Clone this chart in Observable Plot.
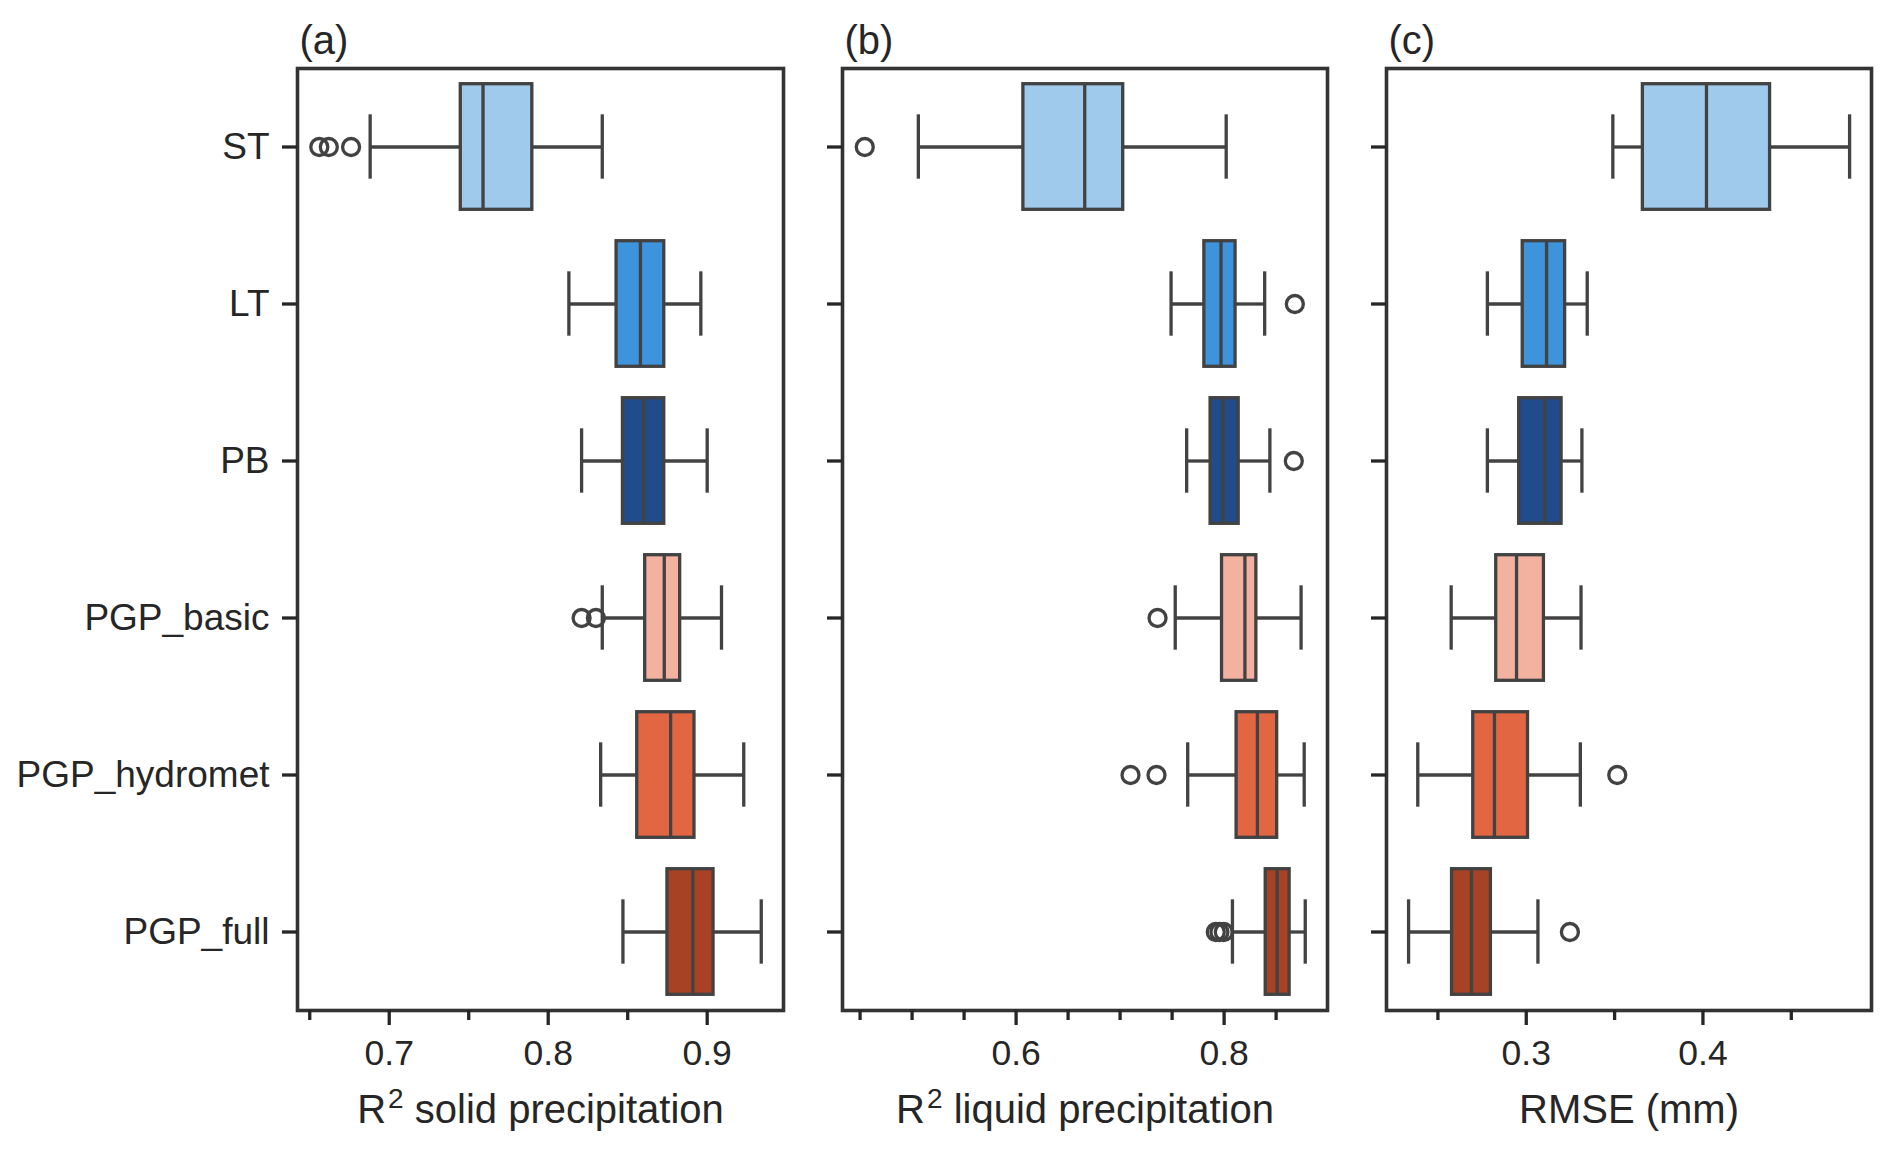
<!DOCTYPE html>
<html>
<head>
<meta charset="utf-8">
<script src="https://cdn.jsdelivr.net/npm/d3@7"></script>
<script src="https://cdn.jsdelivr.net/npm/@observablehq/plot@0.6"></script>
<style>
  html, body { margin: 0; padding: 0; background: #fff; }
  #chart { position: relative; width: 1892px; height: 1149px; overflow: hidden; background: #fff; }
  #chart svg { position: absolute; top: 0; }
</style>
</head>
<body>
<div id="chart"></div>
<script>
// ---- categories & colours ----
const categories = ["ST", "LT", "PB", "PGP_basic", "PGP_hydromet", "PGP_full"];
const colors = ["#9fcaec", "#3d93dc", "#214c8c", "#f2b29f", "#e36642", "#a84224"];

// ---- (a) R² solid precipitation ----
const solidLow  = [0.688, 0.813, 0.821, 0.834, 0.833, 0.847];
const solidQ1   = [0.745, 0.843, 0.847, 0.861, 0.856, 0.875];
const solidMed  = [0.759, 0.858, 0.860, 0.873, 0.877, 0.891];
const solidQ3   = [0.790, 0.873, 0.873, 0.883, 0.892, 0.904];
const solidHigh = [0.834, 0.896, 0.900, 0.909, 0.923, 0.934];
const solidOutCat = ["ST", "ST", "ST", "PGP_basic", "PGP_basic"];
const solidOutVal = [0.656, 0.662, 0.676, 0.821, 0.830];

// ---- (b) R² liquid precipitation ----
const liquidLow  = [0.506, 0.749, 0.764, 0.753, 0.765, 0.808];
const liquidQ1   = [0.607, 0.781, 0.787, 0.798, 0.812, 0.840];
const liquidMed  = [0.666, 0.797, 0.799, 0.820, 0.832, 0.851];
const liquidQ3   = [0.703, 0.811, 0.814, 0.831, 0.851, 0.863];
const liquidHigh = [0.802, 0.839, 0.844, 0.874, 0.877, 0.878];
const liquidOutCat = ["ST", "LT", "PB", "PGP_basic", "PGP_hydromet", "PGP_hydromet", "PGP_full", "PGP_full", "PGP_full"];
const liquidOutVal = [0.4545, 0.868, 0.867, 0.736, 0.710, 0.735, 0.792, 0.7955, 0.7997];

// ---- (c) RMSE (mm) ----
const rmseLow  = [0.349, 0.278, 0.278, 0.2575, 0.2386, 0.2334];
const rmseQ1   = [0.366, 0.298, 0.296, 0.283, 0.270, 0.258];
const rmseMed  = [0.402, 0.3115, 0.3105, 0.2945, 0.282, 0.269];
const rmseQ3   = [0.438, 0.322, 0.320, 0.310, 0.301, 0.280];
const rmseHigh = [0.483, 0.3345, 0.3315, 0.331, 0.3306, 0.3066];
const rmseOutCat = ["PGP_hydromet", "PGP_full"];
const rmseOutVal = [0.3515, 0.3247];

// ---- axes ----
const solidDomain = [0.6423, 0.948];
const solidMajor = [0.7, 0.8, 0.9];
const solidMinor = [0.65, 0.75, 0.85];
const liquidDomain = [0.4331, 0.8994];
const liquidMajor = [0.6, 0.8];
const liquidMinor = [0.45, 0.5, 0.55, 0.65, 0.7, 0.75, 0.85];
const rmseDomain = [0.2209, 0.4954];
const rmseMajor = [0.3, 0.4];
const rmseMinor = [0.25, 0.35, 0.45];

const LINE = "#424242";
const FRAME = "#333333";
const TEXT = "#262626";
const FONT = "'Liberation Sans', Arial, Helvetica, sans-serif";
const LW = 3.3;

function panel(p) {
  const rows = categories.map((c, i) => ({cat: c, low: p.low[i], q1: p.q1[i], med: p.med[i], q3: p.q3[i], high: p.high[i]}));
  const outs = p.outCat.map((c, i) => ({cat: c, v: p.outVal[i]}));
  const band = (1010 - 68) / categories.length;
  const boxInset = band * 0.1;
  const capInset = (band - band * 0.41) / 2;
  const svg = Plot.plot({
    width: p.width,
    height: 1149,
    marginLeft: p.mLeft,
    marginRight: p.mRight,
    marginTop: 68,
    marginBottom: 139,
    style: {fontFamily: FONT, color: TEXT, background: "transparent", overflow: "visible"},
    x: {domain: p.domain, label: null},
    y: {domain: categories, padding: 0, label: null},
    color: {domain: categories, range: colors},
    marks: [
      Plot.ruleY(rows, {y: "cat", x1: "low", x2: "q1", stroke: LINE, strokeWidth: LW}),
      Plot.ruleY(rows, {y: "cat", x1: "q3", x2: "high", stroke: LINE, strokeWidth: LW}),
      Plot.tickX(rows, {x: "low", y: "cat", insetTop: capInset, insetBottom: capInset, stroke: LINE, strokeWidth: LW}),
      Plot.tickX(rows, {x: "high", y: "cat", insetTop: capInset, insetBottom: capInset, stroke: LINE, strokeWidth: LW}),
      Plot.barX(rows, {y: "cat", x1: "q1", x2: "q3", fill: "cat", stroke: LINE, strokeWidth: LW, insetTop: boxInset, insetBottom: boxInset}),
      Plot.tickX(rows, {x: "med", y: "cat", insetTop: boxInset, insetBottom: boxInset, stroke: LINE, strokeWidth: LW}),
      Plot.dot(outs, {x: "v", y: "cat", r: 8.5, stroke: LINE, strokeWidth: LW, fill: "none"}),
      Plot.frame({stroke: FRAME, strokeWidth: 3.6}),
      Plot.axisX({ticks: p.major, tickSize: 15, tickPadding: 14, fontSize: 35.5, strokeWidth: 3.3, color: TEXT, tickFormat: d => d.toFixed(1), label: null}),
      Plot.axisX({ticks: p.minor, tickSize: 10, strokeWidth: 3.3, color: TEXT, tickFormat: () => "", label: null}),
      Plot.axisY({tickSize: 15, tickPadding: 13, fontSize: 37, strokeWidth: 3.3, color: TEXT, tickFormat: p.showY ? (d => d) : (() => ""), label: null}),
      Plot.text([p.label], {text: d => d, frameAnchor: "bottom", dy: 112, fontSize: 40, lineAnchor: "bottom", fill: TEXT}),
      Plot.text([p.tag], {text: d => d, frameAnchor: "top-left", dx: 2, dy: -15, fontSize: 40, textAnchor: "start", lineAnchor: "bottom", fill: TEXT})
    ]
  });
  svg.style.left = p.left + "px";
  // render the "²" in the axis label as a real superscript
  d3.select(svg).selectAll("text").filter(function () { return this.textContent.startsWith("R²"); })
    .each(function () {
      const rest = this.textContent.slice(2);
      const t = d3.select(this);
      t.text(null);
      t.append("tspan").text("R");
      t.append("tspan").attr("font-size", 28).attr("dy", -15).attr("dx", 2).text("2");
      t.append("tspan").attr("dy", 15).text(rest);
    });
  return svg;
}

const chart = document.getElementById("chart");
chart.appendChild(panel({
  low: solidLow, q1: solidQ1, med: solidMed, q3: solidQ3, high: solidHigh,
  outCat: solidOutCat, outVal: solidOutVal, domain: solidDomain, major: solidMajor, minor: solidMinor,
  label: "R² solid precipitation", tag: "(a)", showY: true,
  left: 0, width: 800, mLeft: 297, mRight: 17
}));
chart.appendChild(panel({
  low: liquidLow, q1: liquidQ1, med: liquidMed, q3: liquidQ3, high: liquidHigh,
  outCat: liquidOutCat, outVal: liquidOutVal, domain: liquidDomain, major: liquidMajor, minor: liquidMinor,
  label: "R² liquid precipitation", tag: "(b)", showY: false,
  left: 800, width: 545, mLeft: 42, mRight: 18
}));
chart.appendChild(panel({
  low: rmseLow, q1: rmseQ1, med: rmseMed, q3: rmseQ3, high: rmseHigh,
  outCat: rmseOutCat, outVal: rmseOutVal, domain: rmseDomain, major: rmseMajor, minor: rmseMinor,
  label: "RMSE (mm)", tag: "(c)", showY: false,
  left: 1345, width: 547, mLeft: 41, mRight: 21
}));
</script>
</body>
</html>
